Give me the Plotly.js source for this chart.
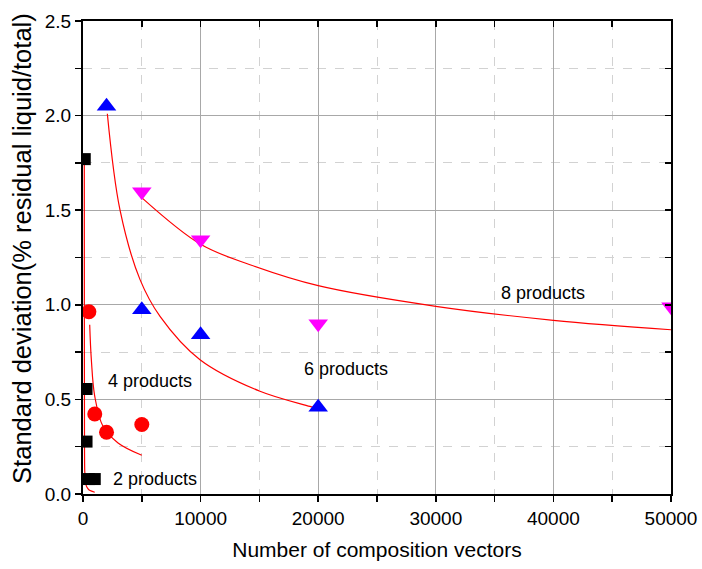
<!DOCTYPE html>
<html>
<head>
<meta charset="utf-8">
<script src="https://cdn.plot.ly/plotly-3.0.1.min.js"></script>
<style>html,body{margin:0;padding:0;background:#fff;}#chart{width:702px;height:569px;}</style>
</head>
<body>
<div id="chart"></div>
<script>
// Measured points
const p2_x = [150, 300, 300, 500, 1000];
const p2_y = [1.77, 0.555, 0.277, 0.079, 0.079];
const p4_x = [500, 1000, 2000, 5000];
const p4_y = [0.963, 0.423, 0.326, 0.367];
const p6_x = [2000, 5000, 10000, 20000];
const p6_y = [2.05, 0.974, 0.842, 0.458];
const p8_x = [5000, 10000, 20000, 50000];
const p8_y = [1.597, 1.344, 0.90, 0.99];

// Fit curves
const f2_x = [110, 115, 125, 150, 250, 400, 600, 1000];
const f2_y = [1.77, 1.0, 0.4, 0.12, 0.05, 0.03, 0.018, 0.009];
const f4_x = [570, 710, 1000, 1700, 2980, 5000];
const f4_y = [0.895, 0.71, 0.516, 0.358, 0.27, 0.205];
const f6_x = [2070, 3150, 4850, 6550, 9950, 15050, 19300, 20000];
const f6_y = [2.01, 1.50, 1.133, 0.939, 0.71, 0.543, 0.463, 0.45];
const f8_x = [5040, 10000, 14200, 20000, 30000, 40000, 50000];
const f8_y = [1.564, 1.32, 1.212, 1.101, 0.992, 0.918, 0.868];

const labels = ["2 products", "4 products", "6 products", "8 products"];
const label_x = [6120, 5700, 22360, 39100];
const label_y = [0.08, 0.595, 0.663, 1.064];

const xTitle = "Number of composition vectors";
const yTitle = "Standard deviation(% residual liquid/total)";

const FONT = "Liberation Sans, Arial, sans-serif";
const lineStyle = {color: "#ff0000", width: 1.2};

const traces = [
  {x: f2_x, y: f2_y, mode: "lines", line: Object.assign({shape: "spline", smoothing: 0.6}, lineStyle), hoverinfo: "skip"},
  {x: f4_x, y: f4_y, mode: "lines", line: Object.assign({shape: "spline"}, lineStyle), hoverinfo: "skip"},
  {x: f6_x, y: f6_y, mode: "lines", line: Object.assign({shape: "spline"}, lineStyle), hoverinfo: "skip"},
  {x: f8_x, y: f8_y, mode: "lines", line: Object.assign({shape: "spline"}, lineStyle), hoverinfo: "skip"},
  {x: p2_x, y: p2_y, mode: "markers", marker: {symbol: "square", size: 12, color: "#000000"}},
  {x: p4_x, y: p4_y, mode: "markers", marker: {symbol: "circle", size: 15, color: "#ff0000"}},
  {x: p6_x, y: p6_y, mode: "markers", marker: {symbol: "triangle-up", size: 17, color: "#0000ff"}},
  {x: p8_x, y: p8_y, mode: "markers", marker: {symbol: "triangle-down", size: 17, color: "#ff00ff"}},
  {x: [0], y: [0], xaxis: "x2", yaxis: "y2", mode: "markers", marker: {opacity: 0}, hoverinfo: "skip"}
];

const annotations = labels.map((t, i) => ({
  x: label_x[i], y: label_y[i], xref: "x", yref: "y", text: t, showarrow: false,
  font: {family: FONT, size: 18, color: "#000"}
}));
annotations.push({
  x: -0.104, y: 0.52, xref: "paper", yref: "paper", text: yTitle, textangle: -90,
  showarrow: false, xanchor: "center", yanchor: "middle",
  font: {family: FONT, size: 25.5, color: "#000"}
});

const layout = {
  width: 702, height: 569,
  margin: {l: 83, r: 31, t: 21, b: 75},
  paper_bgcolor: "#fff", plot_bgcolor: "#fff",
  showlegend: false,
  xaxis: {
    range: [0, 50000], dtick: 10000, tick0: 0, tickformat: "d",
    showline: true, linecolor: "#000", linewidth: 2,
    ticks: "outside", ticklen: 6, tickwidth: 1.5, tickcolor: "#000",
    showgrid: true, gridcolor: "#a8a8a8", gridwidth: 1, zeroline: false,
    minor: {dtick: 5000, tick0: 0, showgrid: true, gridcolor: "#d2d2d2", griddash: "dash", gridwidth: 1, ticks: "outside", ticklen: 6, tickwidth: 1.5, tickcolor: "#000"},
    tickfont: {family: FONT, size: 19, color: "#000"},
    title: {text: xTitle, font: {family: FONT, size: 21, color: "#000"}, standoff: 15}
  },
  yaxis: {
    range: [0, 2.5], dtick: 0.5, tick0: 0, tickformat: ".1f",
    showline: true, linecolor: "#000", linewidth: 2,
    ticks: "outside", ticklen: 6, tickwidth: 1.5, tickcolor: "#000",
    showgrid: true, gridcolor: "#a8a8a8", gridwidth: 1, zeroline: false,
    minor: {dtick: 0.25, tick0: 0, showgrid: true, gridcolor: "#d2d2d2", griddash: "dash", gridwidth: 1, ticks: "outside", ticklen: 6, tickwidth: 1.5, tickcolor: "#000"},
    tickfont: {family: FONT, size: 19, color: "#000"}
  },
  xaxis2: {
    overlaying: "x", side: "top", range: [0, 50000], dtick: 10000, tick0: 0,
    showline: true, linecolor: "#000", linewidth: 2,
    ticks: "inside", ticklen: 6, tickwidth: 1.5, tickcolor: "#000",
    showgrid: false, zeroline: false, showticklabels: false,
    minor: {dtick: 5000, tick0: 0, ticks: "inside", ticklen: 6, tickwidth: 1.5, tickcolor: "#000", showgrid: false}
  },
  yaxis2: {
    overlaying: "y", side: "right", range: [0, 2.5], dtick: 0.5, tick0: 0,
    showline: true, linecolor: "#000", linewidth: 2,
    ticks: "inside", ticklen: 6, tickwidth: 1.5, tickcolor: "#000",
    showgrid: false, zeroline: false, showticklabels: false,
    minor: {dtick: 0.25, tick0: 0, ticks: "inside", ticklen: 6, tickwidth: 1.5, tickcolor: "#000", showgrid: false}
  },
  annotations: annotations
};

Plotly.newPlot("chart", traces, layout, {displayModeBar: false, staticPlot: true});
</script>
</body>
</html>
